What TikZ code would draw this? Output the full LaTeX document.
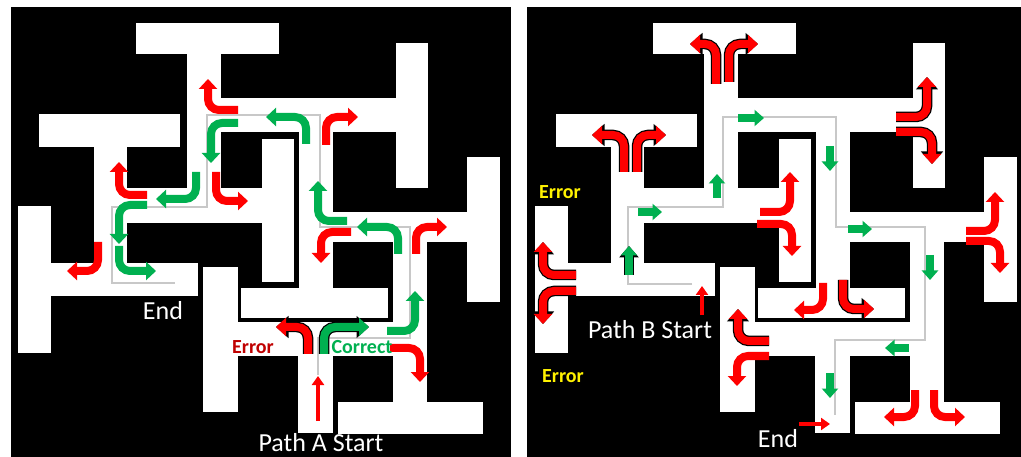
\documentclass[tikz,border=0pt]{standalone}
\usepackage{fontspec}
\setmainfont{Carlito}
\usetikzlibrary{arrows.meta}

\definecolor{arrred}{HTML}{FF0000}
\definecolor{arrgreen}{HTML}{00B050}
\definecolor{errred}{HTML}{C00000}
\definecolor{pathgray}{HTML}{C8C8C8}

\tikzset{
  floor/.style={fill=white},
  route/.style={draw=pathgray, line width=1.2pt},
  turnarr/.style={line width=8pt, rounded corners=11pt, -{Triangle[length=10pt,width=18pt]}},
  rim/.style={preaction={draw=black, line width=10.5pt, -{Triangle[length=12.5pt,width=21.5pt]}}},
  blockarr/.style={line width=7.5pt, -{Triangle[length=9.5pt,width=16pt]}},
  blockrim/.style={preaction={draw=black, line width=9.5pt, -{Triangle[length=11.5pt,width=19pt]}}},
  thinarr/.style={line width=3.5pt, -{Triangle[length=9pt,width=12pt]}},
  big/.style={text=white, font=\fontsize{26}{28}\selectfont, inner sep=0pt},
  tag/.style={font=\bfseries\fontsize{20}{22}\selectfont, inner sep=0pt}
}

% white corridors of the maze (same for both panels)
\newcommand{\mazefloor}{%
  \fill[floor] (136,23) rectangle (279,54);   % top T
  \fill[floor] (187,54) rectangle (221,223);
  \fill[floor] (187,98) rectangle (428,132);
  \fill[floor] (396,43) rectangle (428,188);
  \fill[floor] (39,114) rectangle (180,147);  % left T
  \fill[floor] (94,147) rectangle (127,296);
  \fill[floor] (94,188) rectangle (262,223);
  \fill[floor] (262,139) rectangle (294,282);
  \fill[floor] (299,98) rectangle (333,288);
  \fill[floor] (299,212) rectangle (500,242);
  \fill[floor] (467,157) rectangle (500,302);
  \fill[floor] (393,212) rectangle (427,402);
  \fill[floor] (241,288) rectangle (388,318);
  \fill[floor] (238,322) rectangle (427,356);
  \fill[floor] (203,267) rectangle (238,412);
  \fill[floor] (298,356) rectangle (333,433);
  \fill[floor] (338,402) rectangle (483,434);
  \fill[floor] (51,263) rectangle (198,296);
  \fill[floor] (18,206) rectangle (51,353);
}

\begin{document}
\begin{tikzpicture}[x=1pt,y=-1pt]
\useasboundingbox (0,0) rectangle (1021,457);
\fill[white] (0,0) rectangle (1021,457);
\fill[black] (11,7) rectangle (511,457);
\fill[black] (527,7) rectangle (1021,457);

\mazefloor
\begin{scope}[xshift=517pt]
\mazefloor
\end{scope}

% routes
\draw[route] (318,375) -- (318,338) -- (410,338) -- (410,227) -- (320,227) -- (320,115)
  -- (207,115) -- (207,207) -- (112,207) -- (112,283) -- (175,283);
\draw[route] (692,284) -- (628,284) -- (628,207) -- (723,207) -- (723,117) -- (836,117)
  -- (836,227) -- (925,227) -- (925,340) -- (835,340) -- (835,415);

% path A
\draw[turnarr, arrred, rim] (308,354) -- (308,327) -- (276,327);
\draw[turnarr, arrgreen, rim] (324,354) -- (324,327) -- (369,327);
\draw[turnarr, arrgreen] (387,331) -- (415,331) -- (415,291);
\draw[turnarr, arrred] (390,348) -- (420,348) -- (420,382);
\draw[turnarr, arrgreen] (398,254) -- (398,227) -- (357,227);
\draw[turnarr, arrred] (416,254) -- (416,227) -- (447,227);
\draw[turnarr, arrred] (351,232) -- (321,232) -- (321,263);
\draw[turnarr, arrgreen] (347,221) -- (318,221) -- (318,181);
\draw[turnarr, arrgreen] (306,144) -- (306,117) -- (266,117);
\draw[turnarr, arrred] (326,145) -- (326,117) -- (358,117);
\draw[turnarr, arrgreen] (238,123) -- (211,123) -- (211,163);
\draw[turnarr, arrred] (238,110) -- (208,110) -- (208,79);
\draw[turnarr, arrred] (216,172) -- (216,201) -- (248,201);
\draw[turnarr, arrgreen] (196,172) -- (196,199) -- (156,199);
\draw[turnarr, arrred] (147,195) -- (119,195) -- (119,162);
\draw[turnarr, arrgreen] (147,205) -- (119,205) -- (119,244);
\draw[turnarr, arrgreen] (119,246) -- (119,271) -- (156,271);
\draw[turnarr, arrred] (98,242) -- (98,271) -- (67,271);
\draw[thinarr, arrred] (318,421) -- (318,376);

% path B
\draw[turnarr, arrred, rim] (716,84) -- (716,44) -- (690,44);
\draw[turnarr, arrred, rim] (729,82) -- (729,44) -- (758,44);
\draw[turnarr, arrred, rim] (624,172) -- (624,135) -- (592,135);
\draw[turnarr, arrred, rim] (637,172) -- (637,135) -- (666,135);
\draw[turnarr, arrred, rim] (896,117) -- (927,117) -- (927,77);
\draw[turnarr, arrred, rim] (896,132) -- (932,132) -- (932,164);
\draw[turnarr, arrred] (760,212) -- (790,212) -- (790,172);
\draw[turnarr, arrred] (757,224) -- (792,224) -- (792,256);
\draw[turnarr, arrred] (966,231) -- (995,231) -- (995,192);
\draw[turnarr, arrred] (966,241) -- (1000,241) -- (1000,273);
\draw[turnarr, arrred] (823,283) -- (823,310) -- (794,310);
\draw[turnarr, arrred, rim] (843,280) -- (843,309) -- (874,309);
\draw[turnarr, arrred, rim] (769,341) -- (738,341) -- (738,309);
\draw[turnarr, arrred] (769,356) -- (737,356) -- (737,386);
\draw[turnarr, arrred] (915,390) -- (915,417) -- (884,417);
\draw[turnarr, arrred] (934,390) -- (934,417) -- (965,417);
\draw[turnarr, arrred, rim] (576,275) -- (543,275) -- (543,242);
\draw[turnarr, arrred, rim] (576,291) -- (543,291) -- (543,324);

\draw[blockarr, arrgreen, blockrim] (629,275) -- (629,246);
\draw[blockarr, arrgreen] (638,212) -- (662,212);
\draw[blockarr, arrgreen] (717,198) -- (717,174);
\draw[blockarr, arrgreen] (738,118) -- (764,118);
\draw[blockarr, arrgreen] (830,146) -- (830,171);
\draw[blockarr, arrgreen] (848,229) -- (872,229);
\draw[blockarr, arrgreen] (930,255) -- (930,280);
\draw[blockarr, arrgreen] (909,348) -- (885,348);
\draw[blockarr, arrgreen] (830,373) -- (830,398);
\draw[thinarr, arrred] (702,315) -- (702,286);
\draw[thinarr, arrred] (799,424) -- (830,424);

% labels
\node[big] (endA) at (163,311) {End};
\node[big] (startA) at (321,443) {Path A Start};
\node[tag, text=errred] (errA) at (253,347) {Error};
\node[tag, text=arrgreen] (okA) at (362,347) {Correct};
\node[tag, text=yellow] (errB1) at (560,192) {Error};
\node[tag, text=yellow] (errB2) at (563,376) {Error};
\node[big] (startB) at (650,330) {Path B Start};
\node[big] (endB) at (778,439) {End};
\end{tikzpicture}
\end{document}
